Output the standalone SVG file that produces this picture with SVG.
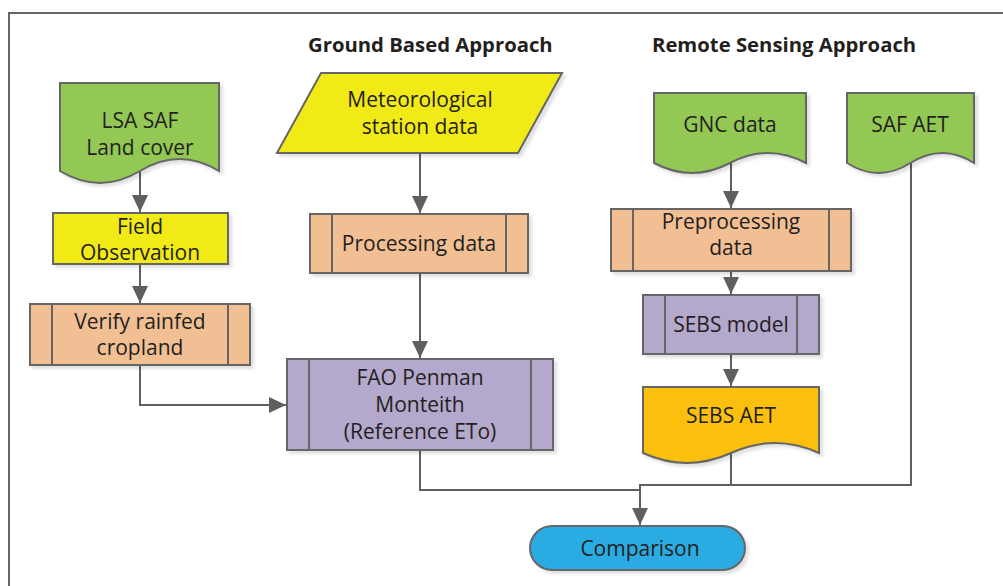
<svg xmlns="http://www.w3.org/2000/svg" width="1003" height="586" viewBox="0 0 1003 586">
  <style>
    .shape { stroke: #666666; stroke-width: 2; filter: url(#shadow); }
    .bar { stroke: #666666; stroke-width: 2; fill: none; }
    .green { fill: #92c853; }
    .yellow { fill: #f2ea17; }
    .orange { fill: #f2bf94; }
    .purple { fill: #b4a8cc; }
    .gold { fill: #fbbf10; }
    .blue { fill: #29abe2; }
    .label { font-family: "Open Sans", "Noto Sans", sans-serif; font-size: 21px; fill: #231f20; text-anchor: middle; }
    .title { font-family: "Open Sans", "Noto Sans", sans-serif; font-size: 20.3px; font-weight: bold; fill: #231f20; }
    .wire { stroke: #5f5f5f; stroke-width: 2; fill: none; }
    .frame { stroke: #666666; stroke-width: 2; fill: none; }
  </style>
  <defs>
    <filter id="shadow" x="-10%" y="-10%" width="130%" height="130%">
      <feGaussianBlur in="SourceAlpha" stdDeviation="1.5"/>
      <feOffset dx="3" dy="3" result="off"/>
      <feFlood flood-color="#000000" flood-opacity="0.12"/>
      <feComposite in2="off" operator="in"/>
      <feMerge>
        <feMergeNode/>
        <feMergeNode in="SourceGraphic"/>
      </feMerge>
    </filter>
    <marker id="arrow" markerUnits="userSpaceOnUse" markerWidth="18" markerHeight="18" viewBox="0 0 18 18" refX="17" refY="9" orient="auto">
      <path d="M0,1 L17,9 L0,17 Z" fill="#5f5f5f"/>
    </marker>
  </defs>

  <rect width="1003" height="586" fill="#ffffff"/>
  <path class="frame" d="M9,600 V13 H1010"/>

  <text class="title" x="308" y="52">Ground Based Approach</text>
  <text class="title" x="652" y="52">Remote Sensing Approach</text>

  <!-- connectors -->
  <g id="connectors">
    <path class="wire" d="M140,171 V212" marker-end="url(#arrow)"/>
    <path class="wire" d="M140,264 V303" marker-end="url(#arrow)"/>
    <path class="wire" d="M420,153 V213" marker-end="url(#arrow)"/>
    <path class="wire" d="M420,273 V358" marker-end="url(#arrow)"/>
    <path class="wire" d="M140,365 V405 H286" marker-end="url(#arrow)"/>
    <path class="wire" d="M731,163 V208" marker-end="url(#arrow)"/>
    <path class="wire" d="M731,271 V294" marker-end="url(#arrow)"/>
    <path class="wire" d="M731,354 V386" marker-end="url(#arrow)"/>
    <path class="wire" d="M420,450 V490 H640"/>
    <path class="wire" d="M731,453 V485"/>
    <path class="wire" d="M911,163 V485 H640 V525" marker-end="url(#arrow)"/>
  </g>

  <!-- ground based branch -->
  <g id="lsa-saf">
    <path class="shape green" d="M60,83 H219 V171 Q179.5,147 140,171 Q100,195 60,171 Z"/>
    <text class="label" x="140" y="128">LSA SAF</text>
    <text class="label" x="140" y="155">Land cover</text>
  </g>

  <g id="field-observation">
    <rect class="shape yellow" x="53" y="213" width="175" height="51"/>
    <text class="label" x="140" y="234">Field</text>
    <text class="label" x="140" y="260">Observation</text>
  </g>

  <g id="verify-cropland">
    <rect class="shape orange" x="30" y="304" width="220" height="61"/>
    <path class="bar" d="M52,304 V365 M228,304 V365"/>
    <text class="label" x="140" y="329">Verify rainfed</text>
    <text class="label" x="140" y="355">cropland</text>
  </g>

  <g id="meteo-data">
    <path class="shape yellow" d="M321,73 H562 L518,153 H277 Z"/>
    <text class="label" x="420" y="107">Meteorological</text>
    <text class="label" x="420" y="134">station data</text>
  </g>

  <g id="processing-data">
    <rect class="shape orange" x="310" y="214" width="218" height="59"/>
    <path class="bar" d="M332,214 V273 M506,214 V273"/>
    <text class="label" x="419" y="251">Processing data</text>
  </g>

  <g id="fao-penman">
    <rect class="shape purple" x="287" y="359" width="266" height="91"/>
    <path class="bar" d="M309,359 V450 M531,359 V450"/>
    <text class="label" x="420" y="385">FAO Penman</text>
    <text class="label" x="420" y="412">Monteith</text>
    <text class="label" x="420" y="439">(Reference ETo)</text>
  </g>

  <!-- remote sensing branch -->
  <g id="gnc-data">
    <path class="shape green" d="M654,93 H806 V163 Q768,143 730,163 Q692,183 654,163 Z"/>
    <text class="label" x="730" y="132">GNC data</text>
  </g>

  <g id="saf-aet">
    <path class="shape green" d="M847,93 H974 V163 Q942.5,143 910.5,163 Q878.5,183 847,163 Z"/>
    <text class="label" x="910" y="132">SAF AET</text>
  </g>

  <g id="preprocessing-data">
    <rect class="shape orange" x="611" y="209" width="240" height="62"/>
    <path class="bar" d="M633,209 V271 M829,209 V271"/>
    <text class="label" x="731" y="229">Preprocessing</text>
    <text class="label" x="731" y="255">data</text>
  </g>

  <g id="sebs-model">
    <rect class="shape purple" x="643" y="295" width="176" height="59"/>
    <path class="bar" d="M665,295 V354 M797,295 V354"/>
    <text class="label" x="731" y="332">SEBS model</text>
  </g>

  <g id="sebs-aet">
    <path class="shape gold" d="M643,387 H819 V453 Q775,433 731,453 Q687,473 643,453 Z"/>
    <text class="label" x="731" y="423">SEBS AET</text>
  </g>

  <g id="comparison">
    <rect class="shape blue" x="530" y="526" width="215" height="44" rx="22" ry="22"/>
    <text class="label" x="640" y="556">Comparison</text>
  </g>
</svg>
